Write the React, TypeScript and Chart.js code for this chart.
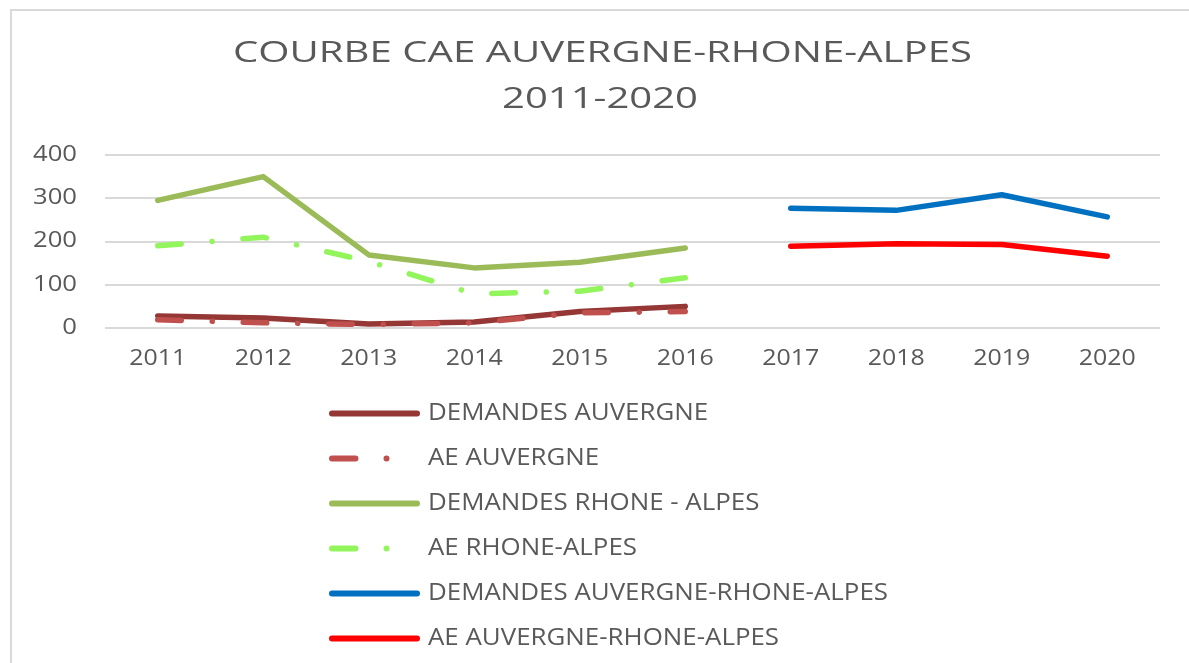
import React, { useEffect, useRef } from "react";
import { Chart, registerables } from "chart.js";

Chart.register(...registerables);

const categories = ["2011", "2012", "2013", "2014", "2015", "2016", "2017", "2018", "2019", "2020"];
const demandesAuvergne = [28, 23, 9, 14, 38, 50, null, null, null, null];
const aeAuvergne = [19, 12, 8, 12, 35, 38, null, null, null, null];
const demandesRhoneAlpes = [295, 350, 169, 139, 152, 185, null, null, null, null];
const aeRhoneAlpes = [190, 210, 154, 79, 85, 116, null, null, null, null];
const demandesARA = [null, null, null, null, null, null, 277, 272, 308, 257];
const aeARA = [null, null, null, null, null, null, 189, 195, 193, 166];
const yTicks = [0, 100, 200, 300, 400];
const titleLines = ["COURBE CAE AUVERGNE-RHONE-ALPES", "2011-2020"];

const seriesNames = [
  "DEMANDES AUVERGNE",
  "AE AUVERGNE",
  "DEMANDES RHONE - ALPES",
  "AE RHONE-ALPES",
  "DEMANDES AUVERGNE-RHONE-ALPES",
  "AE AUVERGNE-RHONE-ALPES",
];
const seriesColors = ["#953735", "#C0504D", "#9BBB59", "#92F55B", "#0070C0", "#FF0000"];
const seriesDashed = [false, true, false, true, false, true && false];
const seriesValues = [demandesAuvergne, aeAuvergne, demandesRhoneAlpes, aeRhoneAlpes, demandesARA, aeARA];

const DASH = [23.5, 31, 0.01, 31];
const TEXT = "#595959";
const FONT = "'Open Sans', 'Liberation Sans', sans-serif";

function stretchText(ctx: CanvasRenderingContext2D, text: string, x: number, y: number, font: string, sx: number, align: CanvasTextAlign) {
  ctx.save();
  ctx.font = font;
  ctx.fillStyle = TEXT;
  ctx.textBaseline = "middle";
  ctx.textAlign = align;
  ctx.translate(x, y);
  ctx.scale(sx, 1);
  ctx.fillText(text, 0, 0);
  ctx.restore();
}

function factor(ctx: CanvasRenderingContext2D, text: string, font: string, target: number) {
  ctx.save();
  ctx.font = font;
  const w = ctx.measureText(text).width;
  ctx.restore();
  return w > 0 ? target / w : 1;
}

const decorPlugin = {
  id: "decor",
  beforeDraw(chart: any) {
    const ctx: CanvasRenderingContext2D = chart.ctx;
    ctx.save();
    ctx.fillStyle = "#ffffff";
    ctx.fillRect(0, 0, chart.width, chart.height);
    ctx.strokeStyle = "#d9d9d9";
    ctx.lineWidth = 2;
    ctx.beginPath();
    ctx.moveTo(11, chart.height);
    ctx.lineTo(11, 10);
    ctx.lineTo(chart.width, 10);
    ctx.stroke();
    ctx.restore();
  },
  afterDraw(chart: any) {
    const ctx: CanvasRenderingContext2D = chart.ctx;
    // Title
    const tFont = `29px ${FONT}`;
    stretchText(ctx, titleLines[0], 602.5, 54, tFont, factor(ctx, titleLines[0], tFont, 739), "center");
    stretchText(ctx, titleLines[1], 600, 100, tFont, factor(ctx, titleLines[1], tFont, 196), "center");

    // X tick labels
    const xs = chart.scales.x;
    const xFont = `21px ${FONT}`;
    const fx = factor(ctx, "2011", xFont, 57);
    categories.forEach((c, i) => {
      stretchText(ctx, c, xs.getPixelForValue(i), 359, xFont, fx, "center");
    });
    // Y tick labels
    const ys = chart.scales.y;
    const fy = factor(ctx, "400", xFont, 44);
    yTicks.forEach((v) => {
      stretchText(ctx, String(v), 77, ys.getPixelForValue(v), xFont, fy, "right");
    });

    // Legend
    const lFont = `23px ${FONT}`;
    const fl = factor(ctx, seriesNames[4], lFont, 460);
    chart.data.datasets.forEach((ds: any, i: number) => {
      const y = 413.5 + i * 45;
      ctx.save();
      ctx.strokeStyle = ds.borderColor;
      ctx.lineWidth = 6;
      ctx.lineCap = "round";
      ctx.setLineDash(ds.borderDash || []);
      ctx.beginPath();
      ctx.moveTo(332, y);
      ctx.lineTo(ds.borderDash && ds.borderDash.length ? 392 : 417, y);
      ctx.stroke();
      ctx.restore();
      stretchText(ctx, ds.label, 428, y, lFont, fl, "left");
    });
  },
};

export default function App() {
  const ref = useRef<HTMLCanvasElement | null>(null);
  useEffect(() => {
    if (!ref.current) return;
    const datasets = seriesValues.map((vals, i) => ({
      label: seriesNames[i],
      data: vals,
      borderColor: seriesColors[i],
      backgroundColor: seriesColors[i],
      borderWidth: 5.5,
      borderDash: i === 1 || i === 3 ? DASH : [],
      borderCapStyle: "round" as const,
      borderJoinStyle: "round" as const,
      pointRadius: 0,
      pointHoverRadius: 0,
      tension: 0,
      spanGaps: false,
      fill: false,
      order: 10 - i,
    }));
    const chart = new Chart(ref.current, {
      type: "line",
      data: { labels: categories, datasets },
      options: {
        animation: false,
        responsive: false,
        devicePixelRatio: 1,
        layout: { padding: { left: 105, right: 29, top: 155, bottom: 335 } },
        plugins: { legend: { display: false }, title: { display: false }, tooltip: { enabled: false } },
        scales: {
          x: {
            type: "category",
            offset: true,
            grid: { display: false, drawTicks: false },
            border: { display: false },
            ticks: { display: false },
          },
          y: {
            min: 0,
            max: 400,
            ticks: { display: false, stepSize: 100 },
            grid: { color: "#d9d9d9", lineWidth: 2, drawTicks: false },
            border: { display: false },
          },
        },
      },
      plugins: [decorPlugin],
    });
    return () => chart.destroy();
  }, []);
  return (
    <div style={{ position: "fixed", left: 0, top: 0, width: 1189, height: 663, background: "#fff" }}>
      <canvas ref={ref} width={1189} height={663} style={{ display: "block" }} />
    </div>
  );
}
